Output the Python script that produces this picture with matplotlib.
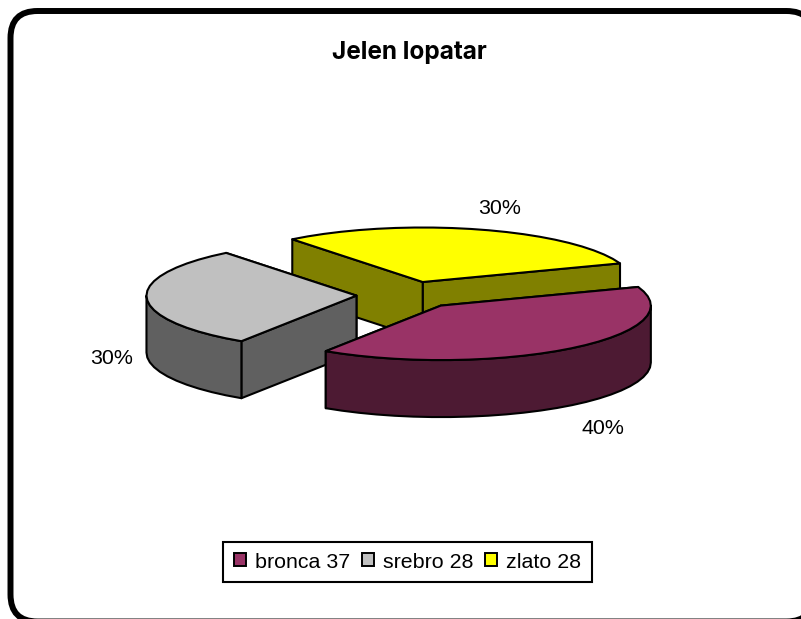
import numpy as np
import matplotlib
matplotlib.use("Agg")
import matplotlib.pyplot as plt
from matplotlib.patches import Polygon, FancyBboxPatch, Patch

# ---- data ----
title = "Jelen lopatar"
categories = ["bronca 37", "srebro 28", "zlato 28"]
values = [37, 28, 28]
pct_labels = ["40%", "30%", "30%"]
top_colors = ["#993366", "#C0C0C0", "#FFFF00"]
side_colors = ["#4D1A33", "#606060", "#808000"]

# ---- layout (pixels) ----
W, H = 801, 619
cx, cy = 408.5, 295
rx, ry = 210, 54.5
depth = 57
explode = 0.248
label_pos = [(603, 429), (112, 358), (500, 208)]
LW = 1.5

plt.rcParams["font.family"] = ["Liberation Sans", "DejaVu Sans"]
fig = plt.figure(figsize=(W / 100, H / 100), dpi=100)
ax = fig.add_axes([0, 0, 1, 1])
ax.set_xlim(0, W)
ax.set_ylim(H, 0)
ax.axis("off")

ax.add_patch(FancyBboxPatch((10.5, 11), 803, 610.5,
                            boxstyle="round,pad=0,rounding_size=27",
                            fc="white", ec="black", lw=4.3, zorder=0))

# slice angle ranges: bronca ends at 20 deg, then counter-clockwise order
sizes = np.array(values) / np.sum(values) * 360
a0 = 20 - sizes[0]
spans = {0: (a0, 20.0), 2: (20.0, 20.0 + sizes[2]), 1: (20.0 + sizes[2], 20.0 + sizes[2] + sizes[1])}


def arc(c, a, b, step=5.0):
    n = max(2, int(abs(b - a) / step) + 1)
    t = np.radians(np.linspace(a, b, n))
    return np.column_stack([c[0] + rx * np.cos(t), c[1] - ry * np.sin(t)])


z = 2
for i in [2, 1, 0]:   # painter's order: back to front
    a, b = spans[i]
    mid = np.radians((a + b) / 2)
    c = np.array([cx + explode * rx * np.cos(mid), cy - explode * ry * np.sin(mid)])
    pts = arc(c, a, b)
    down = np.array([0, depth])
    style = dict(ec="black", lw=LW, joinstyle="round")
    for p in (pts[0], pts[-1]):
        ax.add_patch(Polygon([c, p, p + down, c + down], fc=side_colors[i], zorder=z, **style))
        z += 1
    # visible outer wall: lower half of the ellipse only
    for lo, hi in ((180, 360), (-180, 0)):
        wa, wb = max(a, lo), min(b, hi)
        if wb > wa:
            w = arc(c, wa, wb)
            ax.add_patch(Polygon(np.vstack([w, (w + down)[::-1]]), fc=side_colors[i], zorder=z, **style))
            z += 1
    ax.add_patch(Polygon(np.vstack([c, pts]), fc=top_colors[i], zorder=z, **style))
    z += 1

for lab, (x, y) in zip(pct_labels, label_pos):
    ax.text(x, y, lab, ha="center", va="center", fontsize=15.4, color="black", zorder=50)

ax.text(409, 52, title, ha="center", va="center", fontsize=17.5, fontweight="bold",
        family=["Inter", "Liberation Sans"], color="black", zorder=50)

handles = [Patch(fc=top_colors[i], ec="black", lw=1.4) for i in range(3)]
leg = ax.legend(handles, categories, ncol=3, loc="center",
                bbox_to_anchor=(407.5 / W, 1 - 562 / H), fontsize=15.4, frameon=True,
                fancybox=False, edgecolor="black", framealpha=1,
                handlelength=0.55, handleheight=0.55, handletextpad=0.42,
                columnspacing=0.56, borderpad=0.5, borderaxespad=0)
leg.get_frame().set_linewidth(1.5)
leg.set_zorder(60)

fig.savefig("out.png", dpi=100, facecolor="white")
